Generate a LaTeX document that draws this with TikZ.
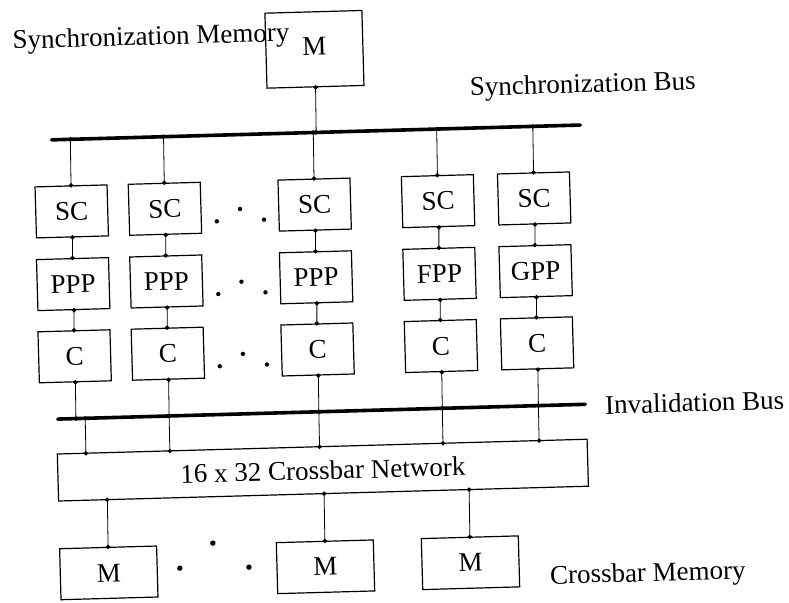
\documentclass[tikz,border=0pt]{standalone}
\usepackage{fontspec}
\setmainfont{Liberation Serif}
\usetikzlibrary{arrows.meta}
\begin{document}
\begin{tikzpicture}[
  every node/.style={rotate=1.6},
  txt/.style={font=\fontsize{27}{32}\selectfont, inner sep=0pt},
  box/.style={draw, line width=1.2pt, txt, minimum width=72pt, minimum height=51pt},
  bus/.style={line width=3.6pt, line cap=round},
  conn/.style={line width=0.8pt, {Circle[length=4.4pt]}-{Circle[length=4.4pt]}, shorten <=-2.2pt, shorten >=-2.2pt},
  edot/.style={radius=2.2},
  bdot/.style={radius=2.7}
]
\useasboundingbox (0,0) rectangle (789pt,-602pt);
\fill[white] (0,0) rectangle (789pt,-602pt);
\begin{scope}[x=1pt,y=1pt,cm={1,0.028,0.02,-1,(-6pt,-11.06pt)}]
  % labels
  \node[txt, anchor=base west] (lsm) at (18,38.3) {Synchronization Memory};
  \node[txt, anchor=base west] (lsb) at (474,98.1) {Synchronization Bus};
  \node[txt, anchor=base west] (lib) at (602.7,419.9) {Invalidation Bus};
  \node[txt, anchor=base west] (lcm) at (544.3,588.3) {Crossbar Memory};
  % synchronization memory
  \node[box, minimum width=97pt, minimum height=75pt, text depth=6pt] (smem) at (319.5,47.2) {M};
  % buses
  \coordinate (sbL) at (55,130.3);
  \coordinate (sbR) at (583.5,130.3);
  \coordinate (ibL) at (55.6,409.5);
  \coordinate (ibR) at (583,409.5);
  \draw[bus] (sbL) -- (sbR);
  \draw[bus] (ibL) -- (ibR);
  \coordinate (sbM) at (319.5,130.3);
  \draw[conn] (smem.south) -- (sbM);
  % crossbar
  \node[box, minimum width=530pt, minimum height=47pt] (xbar) at (319.5,468) {16 x 32 Crossbar Network};
  % columns
  \foreach \i/\x/\p/\xc in {1/73.7/PPP/83, 2/166.9/PPP/166.9, 3/316.6/PPP/316.6, 4/440/FPP/440, 5/536.1/GPP/536.1} {
    \node[box] (sc\i) at (\x,202.4) {SC};
    \node[box] (pp\i) at (\x,275.1) {\p};
    \node[box] (c\i) at (\x,347.3) {C};
    \coordinate (sb\i) at (\x,130.3);
    \coordinate (ib\i) at (\x,409.5);
    \coordinate (ix\i) at (\xc,409.5);
    \coordinate (xt\i) at (\xc,444.5);
    \draw[conn] (sb\i) -- (sc\i.north);
    \draw[conn] (sc\i.south) -- (pp\i.north);
    \draw[conn] (pp\i.south) -- (c\i.north);
    \draw[conn] (c\i.south) -- (ib\i);
    \draw[conn] (ix\i) -- (xt\i);
  }
  % ellipsis dots between columns 2 and 3
  \foreach \v in {202.4, 275.1, 347.3} {
    \fill (218.5,\v+14) circle[edot];
    \fill (241.9,\v+2.3) circle[edot];
    \fill (265.7,\v+13.6) circle[edot];
  }
  % crossbar memories
  \foreach \i/\x in {1/103.5, 2/320.2, 3/465.2} {
    \node[box, minimum width=97pt] (m\i) at (\x,564.7) {M};
    \coordinate (xb\i) at (\x,491.5);
    \draw[conn] (xb\i) -- (m\i.north);
  }
  \fill (174.6,562) circle[bdot];
  \fill (208.1,537.9) circle[bdot];
  \fill (243.7,562.9) circle[bdot];
\end{scope}
\end{tikzpicture}
\end{document}
